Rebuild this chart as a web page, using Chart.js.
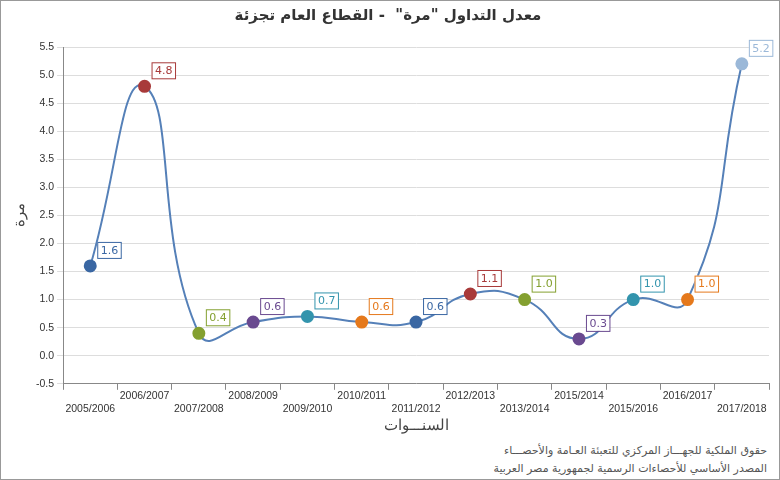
<!DOCTYPE html>
<html><head><meta charset="utf-8">
<script src="https://cdn.jsdelivr.net/npm/chart.js@4"></script>
<style>
body{margin:0;background:#fff;font-family:"DejaVu Sans",sans-serif}
#wrap{position:absolute;left:0;top:0;width:778px;height:478px;border:1px solid #999;background:#fff}
#foot{position:absolute;right:12px;top:441px;text-align:right;font-size:11px;color:#555;line-height:18px;direction:rtl}
</style></head><body>
<div id="wrap"><canvas id="c" width="778" height="438"></canvas>
<div id="foot">حقوق الملكية للجهـــاز المركزي للتعبئة العـامة والأحصـــاء<br>المصدر الأساسي للأحصاءات الرسمية لجمهورية مصر العربية</div></div>
<script>
// السنوات والقيم كما تظهر في الرسم
const SENOAT = ['2005/2006','2006/2007','2007/2008','2008/2009','2009/2010','2010/2011','2011/2012','2012/2013','2013/2014','2015/2014','2015/2016','2016/2017','2017/2018'];
const QEYAM = [1.6, 4.8, 0.4, 0.6, 0.7, 0.6, 0.6, 1.1, 1.0, 0.3, 1.0, 1.0, 5.2];
const ALWAN = ['#3a67a3','#a83a3a','#84a030','#6a4a90','#3394ad','#e5791c','#3a67a3','#a83a3a','#84a030','#6a4a90','#3394ad','#e5791c','#9bb8d8'];

// مربعات القيم بجانب النقاط
const labelsPlugin = {
  id: 'labels',
  afterDatasetsDraw(chart) {
    const ctx = chart.ctx;
    const meta = chart.getDatasetMeta(0);
    ctx.save();
    ctx.font = '11px "DejaVu Sans"';
    meta.data.forEach((p, i) => {
      const t = QEYAM[i].toFixed(1);
      const w = ctx.measureText(t).width + 6;
      const x = p.x + 7, y = p.y - 24;
      ctx.fillStyle = '#fff';
      ctx.fillRect(x, y, w, 16);
      ctx.strokeStyle = ALWAN[i];
      ctx.lineWidth = 1;
      ctx.strokeRect(x + 0.5, y + 0.5, w, 16);
      ctx.fillStyle = ALWAN[i];
      ctx.textBaseline = 'middle';
      ctx.fillText(t, x + 3.5, y + 9);
    });
    ctx.restore();
  }
};

new Chart(document.getElementById('c'), {
  type: 'line',
  data: {
    labels: SENOAT.map((s, i) => i % 2 === 0 ? ['', s] : [s, '']),
    datasets: [{
      data: QEYAM,
      borderColor: '#5580b8',
      borderWidth: 2,
      tension: 0.5,
      pointRadius: 5.5,
      pointHoverRadius: 5.5,
      pointBackgroundColor: ALWAN,
      pointBorderColor: ALWAN,
    }]
  },
  options: {
    responsive: false,
    animation: false,
    layout: { padding: { left: 6, right: 10, top: 0, bottom: 0 } },
    plugins: {
      legend: { display: false },
      tooltip: { enabled: false },
      title: { display: true, text: 'معدل التداول "مرة"  - القطاع العام تجزئة', color: '#333', font: { size: 15, weight: 'bold', family: 'DejaVu Sans' }, padding: { top: 6, bottom: 22 } }
    },
    scales: {
      x: {
        offset: true,
        grid: { display: true, drawOnChartArea: false, offset: true, color: '#888', tickLength: 6 },
        border: { color: '#888' },
        ticks: { color: '#333', font: { size: 10.5 }, maxRotation: 0, autoSkip: false, padding: 0 },
        title: { display: true, text: 'السنـــوات', color: '#444', font: { size: 15 }, padding: { top: 2 } }
      },
      y: {
        min: -0.5, max: 5.5,
        grid: { color: '#ddd', tickLength: 6 },
        border: { color: '#888' },
        ticks: { stepSize: 0.5, color: '#333', font: { size: 10.5 }, callback: v => v.toFixed(1) },
        title: { display: true, text: 'مرة', color: '#444', font: { size: 15 } }
      }
    }
  },
  plugins: [labelsPlugin]
});
</script></body></html>
